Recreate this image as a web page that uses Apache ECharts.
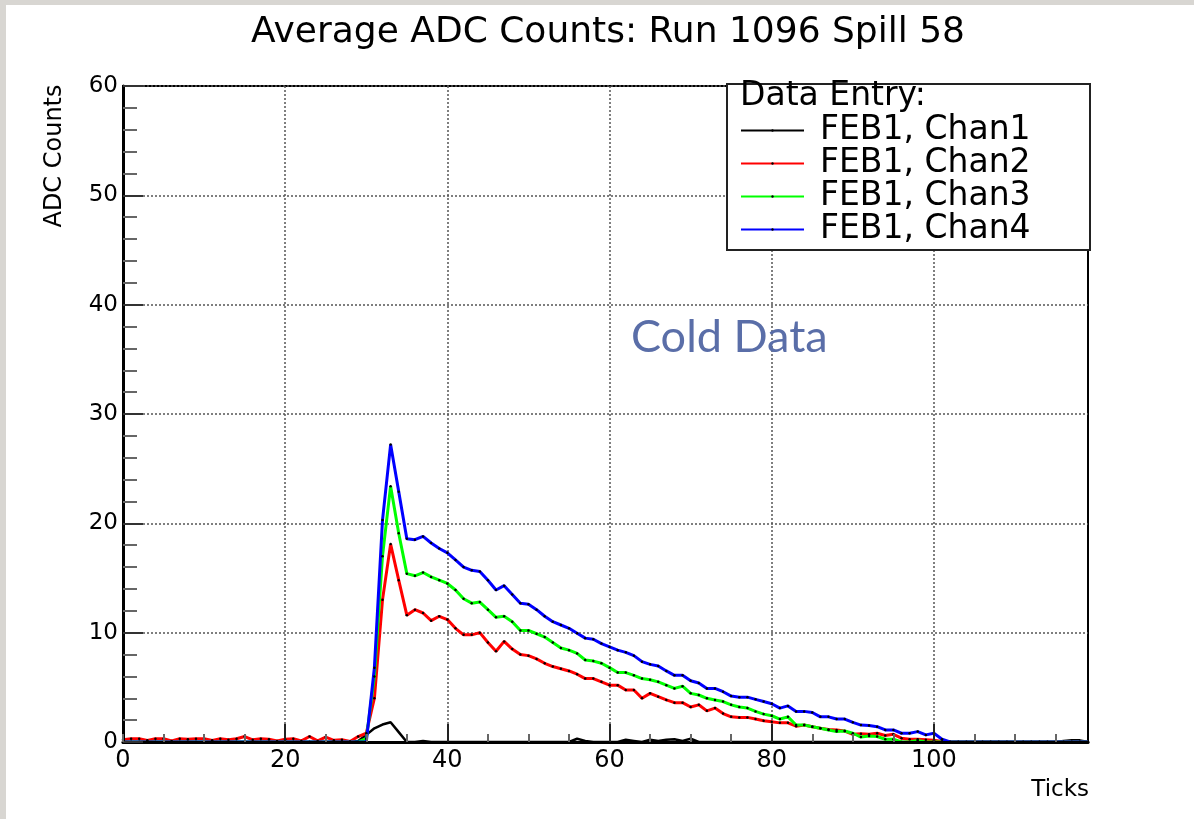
<!DOCTYPE html>
<html><head><meta charset="utf-8">
<script src="https://cdn.jsdelivr.net/npm/echarts@6/dist/echarts.min.js"></script>
<style>
html,body{margin:0;padding:0;background:#d8d6d2;width:1194px;height:819px;overflow:hidden}
#c{position:absolute;left:6px;top:5px;width:1188px;height:814px;background:#fff}
</style></head><body><div id="c"></div>
<script>
const titleText = 'Average ADC Counts: Run 1096 Spill 58';
const xTitle = 'Ticks';
const yTitle = 'ADC Counts';
const legendHeader = 'Data Entry:';
const annotation = 'Cold Data';
const seriesNames = ['FEB1, Chan1', 'FEB1, Chan2', 'FEB1, Chan3', 'FEB1, Chan4'];
const seriesColors = ['#000000', '#ff0000', '#00ff00', '#0000ff'];
const xLabelValues = [0, 20, 40, 60, 80, 100];
const xMajorTicks = [20, 40, 60, 80, 100];
const xMinorTicks = [0,5,10,15,20,25,30,35,40,45,50,55,60,65,70,75,80,85,90,95,100,105,110,115];
const firstTick = 0;

const chan1 = [
 0,0,0,0,0,0,0,0,0,0,
 0,0,0,0,0,0,0,0,0,0,
 0,0,0,0,0,0,0,0,0,0.1,
 0.65,1.25,1.6,1.8,0.9,0,0,0.1,0,0,
 0,0,0,0,0,0,0,0,0,0,
 0,0,0,0,0,0,0.3,0.1,0,0,
 0,0,0.2,0.1,0,0.2,0.1,0.2,0.25,0.1,
 0.3,0,0,0,0,0,0,0,0,0,
 0,0,0,0,0,0,0,0,0,0,
 0,0,0,0,0,0,0,0,0,0,
 0,0,0,0,0,0,0,0,0,0,
 0,0,0,0,0,0,0.1,0.15,0.15,0
];
const chan2 = [
 0.2,0.3,0.3,0.15,0.3,0.3,0.1,0.3,0.25,0.3,
 0.3,0.15,0.3,0.2,0.3,0.5,0.2,0.3,0.25,0.1,
 0.25,0.3,0.1,0.5,0.1,0.45,0.15,0.2,0.05,0.5,
 0.8,4.0,13.0,18.1,14.8,11.6,12.1,11.8,11.1,11.5,
 11.2,10.4,9.8,9.8,10.0,9.1,8.3,9.2,8.5,8.0,
 7.9,7.6,7.2,6.9,6.7,6.5,6.2,5.8,5.8,5.5,
 5.2,5.2,4.75,4.75,4.0,4.45,4.15,3.85,3.6,3.6,
 3.2,3.4,2.85,3.1,2.6,2.3,2.25,2.25,2.1,1.95,
 1.85,1.75,1.75,1.45,1.55,1.4,1.25,1.15,1.1,1.0,
 0.7,0.75,0.7,0.8,0.6,0.7,0.35,0.25,0.25,0.2,
 0.15,0.05,0,0,0,0,0,0,0,0,
 0,0,0,0,0,0,0,0,0,0
];
const chan3 = [
 0,0,0,0,0,0,0,0,0,0,
 0,0,0,0,0,0,0,0,0,0,
 0,0,0,0,0,0,0,0,0,0,
 0.3,6.0,17.0,23.4,19.1,15.4,15.2,15.5,15.1,14.8,
 14.5,13.9,13.1,12.7,12.8,12.1,11.4,11.5,11.0,10.2,
 10.2,9.9,9.6,9.1,8.6,8.4,8.1,7.5,7.4,7.2,
 6.8,6.35,6.35,6.1,5.8,5.7,5.5,5.2,4.9,5.1,
 4.45,4.3,4.0,3.85,3.7,3.4,3.2,3.1,2.8,2.55,
 2.4,2.1,2.3,1.55,1.55,1.4,1.25,1.1,0.95,1.0,
 0.8,0.45,0.55,0.5,0.25,0.25,0,0,0.15,0,
 0,0,0,0,0,0,0,0,0,0,
 0,0,0,0,0,0,0,0,0,0
];
const chan4 = [
 0,0,0,0,0,0,0,0,0,0,
 0,0,0,0,0,0,0,0,0,0,
 0,0,0,0,0,0,0,0,0,0,
 0,6.8,20.3,27.2,22.9,18.6,18.5,18.8,18.2,17.7,
 17.3,16.65,16.0,15.7,15.6,14.8,13.9,14.3,13.5,12.7,
 12.6,12.1,11.5,11.0,10.7,10.4,9.95,9.5,9.4,9.0,
 8.7,8.4,8.2,7.9,7.35,7.1,6.95,6.5,6.1,6.1,
 5.6,5.4,4.9,4.9,4.6,4.2,4.1,4.1,3.9,3.7,
 3.5,3.1,3.3,2.8,2.8,2.7,2.3,2.3,2.1,2.1,
 1.8,1.55,1.5,1.4,1.1,1.1,0.8,0.8,0.95,0.65,
 0.8,0.25,0,0,0,0,0,0,0,0,
 0,0,0,0,0,0,0,0,0,0
];

const FONT = "'DejaVu Sans', sans-serif";
const allData = [chan1, chan2, chan3, chan4];
const toPairs = arr => arr.map((v, i) => [firstTick + i, v]);

const series = allData.map((arr, k) => ({
  type: 'line',
  name: seriesNames[k],
  data: toPairs(arr),
  xAxisIndex: 0, yAxisIndex: 0,
  symbol: k === 0 ? 'none' : 'circle',
  symbolSize: 2.5,
  showSymbol: k !== 0,
  itemStyle: { color: '#000' },
  lineStyle: { color: seriesColors[k], width: k === 0 ? 2.5 : 3 },
  emphasis: { disabled: true },
  z: 2
}));

const chart = echarts.init(document.getElementById('c'), null, { renderer: 'canvas' });
chart.setOption({
  animation: false,
  backgroundColor: '#ffffff',
  grid: { left: 117, right: 106, top: 81, bottom: 77, show: true, borderColor: '#000', borderWidth: 2, backgroundColor: 'transparent' },
  legend: {
    orient: 'vertical', left: 734, top: 109, padding: 0, itemGap: 0,
    itemWidth: 63, itemHeight: 3, z: 12,
    textStyle: { fontFamily: FONT, fontSize: 33, lineHeight: 32.3, color: '#000', padding: [0, 0, 0, 11] },
    data: seriesNames
  },
  xAxis: [
    { type: 'value', min: 0, max: 119, interval: 20, z: 0,
      axisLine: { show: false },
      axisTick: { show: false, customValues: xMajorTicks },
      axisLabel: { customValues: xLabelValues, fontFamily: FONT, fontSize: 24, color: '#000', margin: 7 },
      splitLine: { show: true, lineStyle: { type: [2, 2], color: '#555', width: 1.5 } } },
    { type: 'value', min: 0, max: 119, interval: 5, z: 3, position: 'bottom',
      axisLine: { show: true, lineStyle: { color: '#000', width: 3 } },
      axisTick: { show: true, inside: true, length: 8, customValues: xMinorTicks, lineStyle: { color: '#666', width: 2 } },
      axisLabel: { show: false }, splitLine: { show: false } },
    { type: 'value', min: 0, max: 119, interval: 20, z: 3, position: 'bottom',
      axisLine: { show: false },
      axisTick: { show: true, inside: true, length: 18, customValues: xMajorTicks, lineStyle: { color: '#222', width: 2 } },
      axisLabel: { show: false }, splitLine: { show: false } }
  ],
  yAxis: [
    { type: 'value', min: 0, max: 60, interval: 10, z: 0,
      axisLine: { show: false }, axisTick: { show: false },
      axisLabel: { fontFamily: FONT, fontSize: 23, color: '#000', margin: 5 },
      splitLine: { show: true, lineStyle: { type: [2, 2], color: '#555', width: 1.5 } } },
    { type: 'value', min: 0, max: 60, interval: 10, z: 3, position: 'left',
      axisLine: { show: true, lineStyle: { color: '#000', width: 3 } },
      axisTick: { show: true, inside: true, length: 20, lineStyle: { color: '#333', width: 2 } },
      minorTick: { show: true, splitNumber: 5, length: 14, lineStyle: { color: '#666', width: 2 } },
      axisLabel: { show: false }, splitLine: { show: false } }
  ],
  graphic: [
    { type: 'text', x: 602, y: 27.5, z: 10, style: { text: titleText, font: "36px 'DejaVu Sans'", fill: '#000', textAlign: 'center', textVerticalAlign: 'middle', align: 'center', verticalAlign: 'middle' } },
    { type: 'text', x: 49, y: 151, rotation: Math.PI / 2, z: 10, style: { text: yTitle, font: "24px 'DejaVu Sans'", fill: '#000', textAlign: 'center', textVerticalAlign: 'middle', align: 'center', verticalAlign: 'middle' } },
    { type: 'text', x: 1083, y: 785, z: 10, style: { text: xTitle, font: "23px 'DejaVu Sans'", fill: '#000', textAlign: 'right', textVerticalAlign: 'middle', align: 'right', verticalAlign: 'middle' } },
    { type: 'text', x: 625, y: 332, z: 10, style: { text: annotation, font: "45px Lato", fill: '#5a6ea8', textAlign: 'left', textVerticalAlign: 'middle', align: 'left', verticalAlign: 'middle' } },
    { type: 'rect', z: 10, shape: { x: 721, y: 79, width: 363, height: 166 }, style: { fill: '#fff', stroke: '#222', lineWidth: 2 } },
    { type: 'text', x: 734, y: 91.6, z: 12, style: { text: legendHeader, font: "33px 'DejaVu Sans'", fill: '#000', textAlign: 'left', textVerticalAlign: 'middle', align: 'left', verticalAlign: 'middle' } }
  ],
  series: series
});
</script></body></html>
